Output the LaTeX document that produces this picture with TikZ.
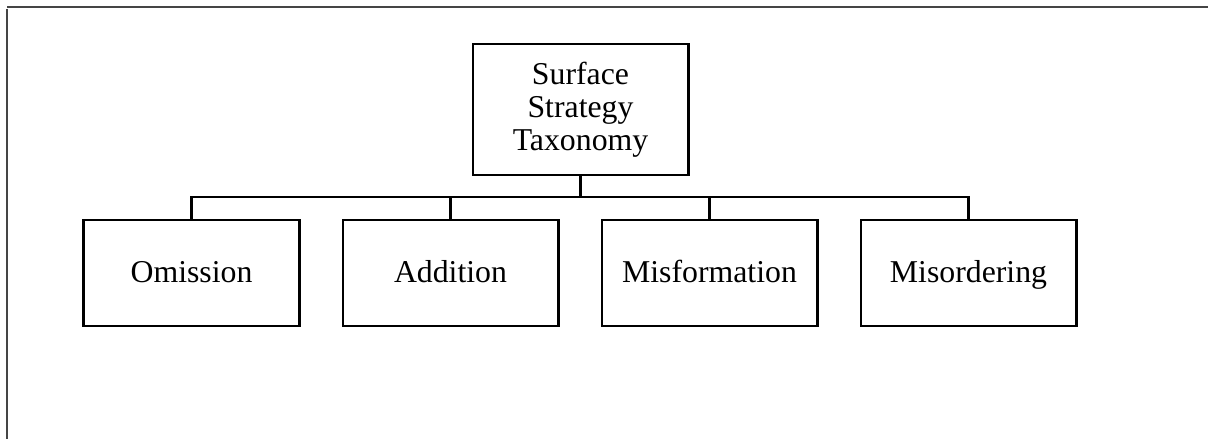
\documentclass[tikz,border=0pt]{standalone}
\usepackage{fontspec}
\setmainfont{Liberation Serif}
\usetikzlibrary{positioning}
\definecolor{cframe}{HTML}{454545}
\tikzset{
  every picture/.style={line width=2.1pt},
  box/.style={draw=black, fill=white, align=center, inner sep=0pt, minimum width=5.375cm, minimum height=2.65cm, font=\fontsize{22.6}{23.4}\selectfont},
  link/.style={draw=black, line width=2.1pt},
}

\begin{document}
\begin{tikzpicture}[x=0.025cm, y=-0.025cm,
  root/.style={box, minimum height=3.275cm},
  kid/.style={box, text height=16pt, text depth=3.2pt},
  rim/.style={draw=cframe, line width=1.6pt}]
  \useasboundingbox (0,0) rectangle (1208,439);
  \draw[rim] (7,7) -- (1208,7);
  \draw[rim] (7,9) -- (7,439);
  \node[root] (tax) at (580.5,109.5) {Surface\\Strategy\\Taxonomy};
  \node[kid] (om) at (191.5,273) {Omission};
  \node[kid] (ad) at (450.5,273) {Addition};
  \node[kid] (mf) at (709.5,273) {Misformation};
  \node[kid] (mo) at (968.5,273) {Misordering};
  \coordinate (bus) at (tax.south |- 0,197);
  \draw[link] (tax.south) -- (bus);
  \foreach \c in {om, ad, mf, mo} \draw[link] (bus) -| (\c.north);
\end{tikzpicture}
\end{document}
